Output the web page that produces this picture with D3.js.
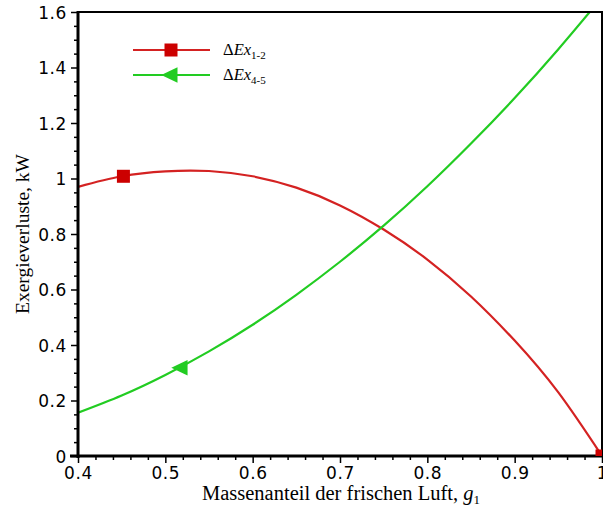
<!DOCTYPE html>
<html><head><meta charset="utf-8">
<script src="https://cdn.jsdelivr.net/npm/d3@7"></script>
<style>body{margin:0;background:#fff}svg{display:block}</style>
</head><body>
<script>
const xValues = [0.40,0.45,0.50,0.55,0.60,0.65,0.70,0.75,0.80,0.85,0.90,0.95,1.00];
const ex12 = [0.970,1.008,1.026,1.027,1.008,0.967,0.903,0.816,0.708,0.575,0.416,0.229,0.0];
const ex45 = [0.156,0.218,0.292,0.377,0.473,0.581,0.700,0.830,0.972,1.126,1.290,1.466,1.653];
const xTicks = [0.4,0.5,0.6,0.7,0.8,0.9,1.0];
const yTicks = [0,0.2,0.4,0.6,0.8,1.0,1.2,1.4,1.6];
const markers12 = [[0.452,1.008],[1.0,0.0]];
const markers45 = [[0.518,0.318]];

const W=603,H=508;
const svg=d3.select("body").append("svg").attr("width",W).attr("height",H);
const x=d3.scaleLinear().domain([0.4,1.0]).range([78,602]);
const y=d3.scaleLinear().domain([0,1.6]).range([456,12]);
const red="#d42222", green="#22cc22";

svg.append("defs").append("clipPath").attr("id","clip").append("rect")
  .attr("x",78).attr("y",12).attr("width",524).attr("height",444);

const fmt=d=> d===0?"0":(d===1?"1":d3.format(".1f")(d));
const xAxis=svg.append("g").attr("transform","translate(0,456)")
  .call(d3.axisBottom(x).tickValues(xTicks).tickFormat(fmt).tickSize(7).tickPadding(4));
const xMinor=svg.append("g").attr("transform","translate(0,456)")
  .call(d3.axisBottom(x).tickValues(d3.range(0.42,1.0,0.02).filter(v=>Math.abs(v*10-Math.round(v*10))>0.01)).tickFormat("").tickSize(4));
const yAxis=svg.append("g").attr("transform","translate(78,0)")
  .call(d3.axisLeft(y).tickValues(yTicks).tickFormat(fmt).tickSize(7).tickPadding(4));
const yMinor=svg.append("g").attr("transform","translate(78,0)")
  .call(d3.axisLeft(y).tickValues(d3.range(0.05,1.6,0.05).filter(v=>Math.abs(v*5-Math.round(v*5))>0.01)).tickFormat("").tickSize(4));
[xAxis,xMinor,yAxis,yMinor].forEach(g=>{
  g.select(".domain").remove();
  g.selectAll("line").attr("stroke","#000").attr("stroke-width",1.5);
  g.selectAll("text").attr("font-family","DejaVu Sans, Verdana, sans-serif").attr("font-size",17)
   .attr("letter-spacing","0.6px").attr("fill","#000");
});
yAxis.selectAll("text").attr("dy","0.36em");

const line=d3.line().x((d,i)=>x(xValues[i])).y(d=>y(d)).curve(d3.curveNatural);
const plot=svg.append("g").attr("clip-path","url(#clip)");
plot.append("path").attr("d",line(ex12)).attr("fill","none").attr("stroke",red).attr("stroke-width",2.2);
plot.append("path").attr("d",line(ex45)).attr("fill","none").attr("stroke",green).attr("stroke-width",2.2);

svg.append("rect").attr("x",78).attr("y",12).attr("width",524).attr("height",444)
  .attr("fill","none").attr("stroke","#000").attr("stroke-width",2);
svg.append("line").attr("x1",78).attr("x2",78).attr("y1",11).attr("y2",458).attr("stroke","#000").attr("stroke-width",3);
svg.append("line").attr("x1",70).attr("x2",602).attr("y1",456).attr("y2",456).attr("stroke","#000").attr("stroke-width",3);

const sq=13;
const tri=(cx,cy,s)=>`M${cx-s*0.75},${cy} L${cx+s*0.5},${cy-s*0.6} L${cx+s*0.5},${cy+s*0.6} Z`;
svg.selectAll(".m12").data(markers12).join("rect").attr("class","m12")
  .attr("x",d=>x(d[0])-sq/2).attr("y",d=>y(d[1])-sq/2).attr("width",sq).attr("height",sq).attr("fill","#cc0000")
  .attr("clip-path","url(#clip)");
svg.selectAll(".m45").data(markers45).join("path").attr("class","m45")
  .attr("d",d=>tri(x(d[0]),y(d[1]),13)).attr("fill",green);

const leg=[{c:red,sub:"1-2",y:50,m:"sq"},{c:green,sub:"4-5",y:75,m:"tri"}];
leg.forEach(l=>{
  svg.append("line").attr("x1",133).attr("x2",210).attr("y1",l.y).attr("y2",l.y).attr("stroke",l.c).attr("stroke-width",2.2);
  if(l.m==="sq") svg.append("rect").attr("x",171-sq/2).attr("y",l.y-sq/2).attr("width",sq).attr("height",sq).attr("fill","#cc0000");
  else svg.append("path").attr("d",tri(171,l.y,13)).attr("fill",green);
  const t=svg.append("text").attr("x",223).attr("y",l.y+5).attr("font-family","Liberation Serif, Times New Roman, serif").attr("font-size",16.5).attr("fill","#000");
  t.append("tspan").text("\u0394");
  t.append("tspan").attr("font-style","italic").text("Ex");
  t.append("tspan").attr("font-size",11).attr("dy",4).text(l.sub);
});

const xt=svg.append("text").attr("x",341).attr("y",500).attr("text-anchor","middle")
  .attr("font-family","Liberation Serif, Times New Roman, serif").attr("font-size",20.5).attr("fill","#000");
xt.append("tspan").text("Massenanteil der frischen Luft, ");
xt.append("tspan").attr("font-style","italic").text("g");
xt.append("tspan").attr("font-size",13).attr("dy",4).text("1");
svg.append("text").attr("transform","translate(29,234) rotate(-90)").attr("text-anchor","middle")
  .attr("font-family","Liberation Serif, Times New Roman, serif").attr("font-size",19.5).attr("fill","#000")
  .text("Exergieverluste, kW");
</script>
</body></html>
